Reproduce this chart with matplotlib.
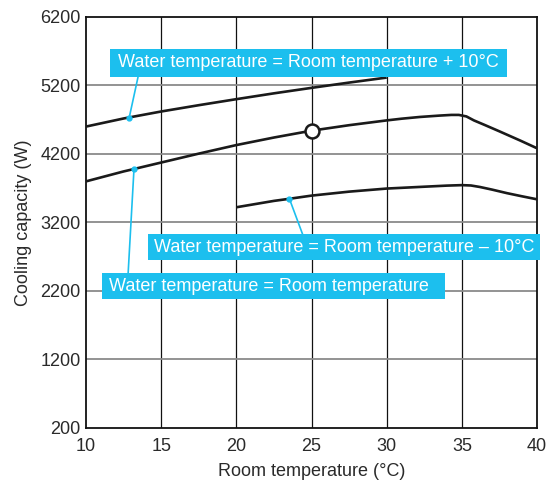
import matplotlib.pyplot as plt
from matplotlib.patches import Rectangle
import numpy as np

plt.rcParams['font.family'] = ['Liberation Sans', 'DejaVu Sans']

# Wassertemperatur = Raumtemperatur + 10 C
t_plus = [10, 12.5, 15, 17.5, 20, 22.5, 25, 27.5, 30]
q_plus = [4600, 4718, 4820, 4912, 5000, 5085, 5165, 5242, 5315]

# Wassertemperatur = Raumtemperatur
t_eq = [10, 12.5, 13.2, 15, 17.5, 20, 22.5, 25, 27.5, 30, 31, 32.2, 33.5, 34.3, 34.8, 35.3,
        35.8, 36.5, 37.5, 38.9, 40]
q_eq = [3800, 3945, 3981, 4075, 4205, 4330, 4440, 4540, 4620, 4690, 4715, 4740, 4760, 4770, 4770, 4748,
        4690, 4625, 4530, 4394, 4283]

# Wassertemperatur = Raumtemperatur - 10 C
t_minus = [20, 22.5, 23.5, 25, 27.5, 30, 32.5, 34, 35, 35.6, 36.2, 37, 38, 39, 40]
q_minus = [3422, 3515, 3545, 3592, 3650, 3695, 3722, 3738, 3745, 3740, 3718, 3680, 3628, 3582, 3538]

xticks = [10, 15, 20, 25, 30, 35, 40]
yticks = [200, 1200, 2200, 3200, 4200, 5200, 6200]

blue = '#1cbfee'

fig = plt.figure(figsize=(5.48, 4.83), dpi=100)
ax = fig.add_axes([0.157, 0.1139, 0.823, 0.851])

for x in xticks[1:-1]:
    ax.axvline(x, color='#111111', lw=0.9, zorder=1)
for y in yticks[1:-1]:
    ax.axhline(y, color='#8a8a8a', lw=1.3, zorder=1)

ax.plot(t_plus, q_plus, color='#1a1a1a', lw=1.9, zorder=3, solid_capstyle='butt')
ax.plot(t_eq, q_eq, color='#1a1a1a', lw=1.9, zorder=3, solid_capstyle='butt')
ax.plot(t_minus, q_minus, color='#1a1a1a', lw=1.9, zorder=3, solid_capstyle='butt')
ax.plot([25], [4540], 'o', ms=10, mfc='white', mec='#1a1a1a', mew=1.8, zorder=5)

# Beschriftungen mit Hinweislinien
boxes = [
    ('Water temperature = Room temperature + 10\u00b0C', 11.6, 38.02, 5325, 5733, 12.11,
     (12.86, 4718), (13.46, 5325)),
    ('Water temperature = Room temperature \u2013 10\u00b0C', 14.13, 40.2, 2646, 3025, 14.52,
     (23.53, 3545), (24.41, 3025)),
    ('Water temperature = Room temperature', 11.06, 33.89, 2078, 2457, 11.53,
     (13.19, 3981), (12.8, 2457)),
]
for txt, x0, x1, y0, y1, tx, dot, end in boxes:
    ax.plot([dot[0], end[0]], [dot[1], end[1]], color=blue, lw=1.2, zorder=4)
    ax.plot([dot[0]], [dot[1]], 'o', color=blue, ms=3.5, zorder=6)
    ax.add_patch(Rectangle((x0, y0), x1 - x0, y1 - y0, facecolor=blue,
                           edgecolor='none', zorder=7, clip_on=False))
    ax.text(tx, (y0 + y1) / 2, txt, color='white', fontsize=13, va='center',
            ha='left', zorder=8, clip_on=False)

ax.set_xlim(10, 40)
ax.set_ylim(200, 6200)
ax.set_xticks(xticks)
ax.set_yticks(yticks)
ax.tick_params(length=0, labelsize=13, colors='#2a2a2a')
ax.tick_params(axis='x', pad=7)
ax.tick_params(axis='y', pad=4)
for s in ax.spines.values():
    s.set_color('#111111')
    s.set_linewidth(1.3)

ax.set_xlabel('Room temperature (\u00b0C)', fontsize=13, color='#2a2a2a', labelpad=6)
ax.set_ylabel('Cooling capacity (W)', fontsize=13, color='#2a2a2a', labelpad=6)

plt.savefig('out.png', dpi=100)
